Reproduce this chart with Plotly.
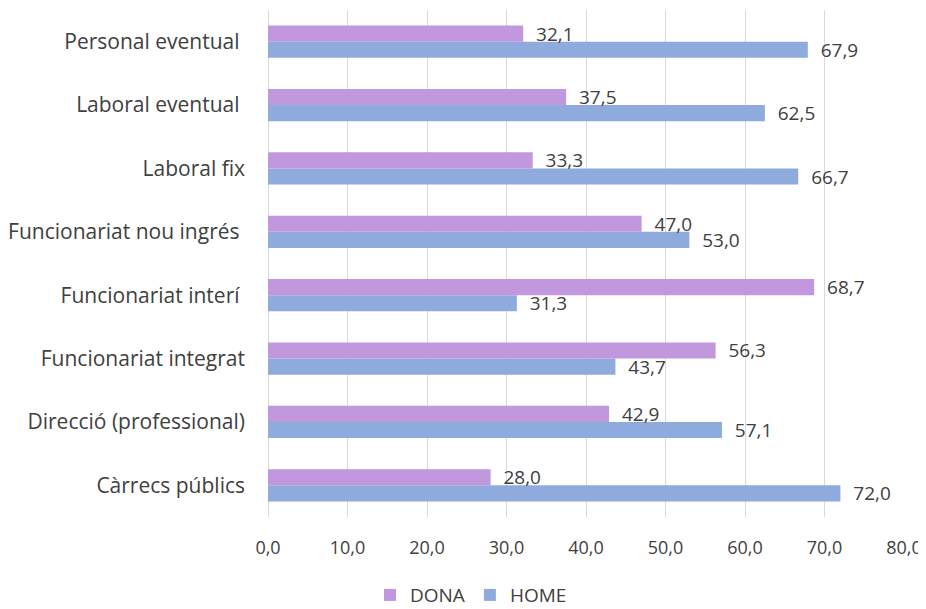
import plotly.graph_objects as go

categories = ["Càrrecs públics", "Direcció (professional)", "Funcionariat integrat",
              "Funcionariat interí ", "Funcionariat nou ingrés ", "Laboral fix",
              "Laboral eventual ", "Personal eventual "]
dona = [28.0, 42.9, 56.3, 68.7, 47.0, 33.3, 37.5, 32.1]
home = [72.0, 57.1, 43.7, 31.3, 53.0, 66.7, 62.5, 67.9]
x_ticks = [0, 10, 20, 30, 40, 50, 60, 70, 80]

FONT = "Open Sans"
TXT = "#404040"
PAD = "\u00a0\u00a0"

fig = go.Figure()
fig.add_trace(go.Bar(y=categories, x=home, name="HOME", orientation="h",
                     marker=dict(color="#8FAADC", line=dict(width=0)),
                     texttemplate=PAD + "%{x:.1f}", textposition="outside",
                     constraintext="none",
                     textfont=dict(family=FONT, size=19, color=TXT), cliponaxis=False))
fig.add_trace(go.Bar(y=categories, x=dona, name="DONA", orientation="h",
                     marker=dict(color="#C197DE", line=dict(width=0)),
                     texttemplate=PAD + "%{x:.1f}", textposition="outside",
                     constraintext="none",
                     textfont=dict(family=FONT, size=19, color=TXT), cliponaxis=False))

fig.update_layout(
    width=926, height=609,
    barmode="group", bargap=0.49, bargroupgap=0,
    separators=",.",
    paper_bgcolor="white", plot_bgcolor="white",
    margin=dict(l=260, r=30, t=2, b=100, autoexpand=False),
    font=dict(family=FONT, size=19, color=TXT),
    legend=dict(orientation="h", xref="container", x=0.5, xanchor="center",
                yref="container", y=0.036, yanchor="middle",
                traceorder="reversed", font=dict(family=FONT, size=19, color=TXT),
                itemwidth=30),
    xaxis=dict(range=[0, 80], tickvals=x_ticks, tickformat=".1f",
               showgrid=True, gridcolor="#D9D9D9", gridwidth=1,
               zeroline=True, zerolinecolor="#D9D9D9", zerolinewidth=1,
               showline=False, ticks="", ticklabelstandoff=18, automargin=False,
               tickfont=dict(family=FONT, size=18, color=TXT)),
    yaxis=dict(categoryorder="array", categoryarray=categories, showgrid=False,
               ticks="", ticklabelstandoff=22, automargin=False,
               tickfont=dict(family=FONT, size=21, color=TXT)),
)

fig.write_html("out.html")
